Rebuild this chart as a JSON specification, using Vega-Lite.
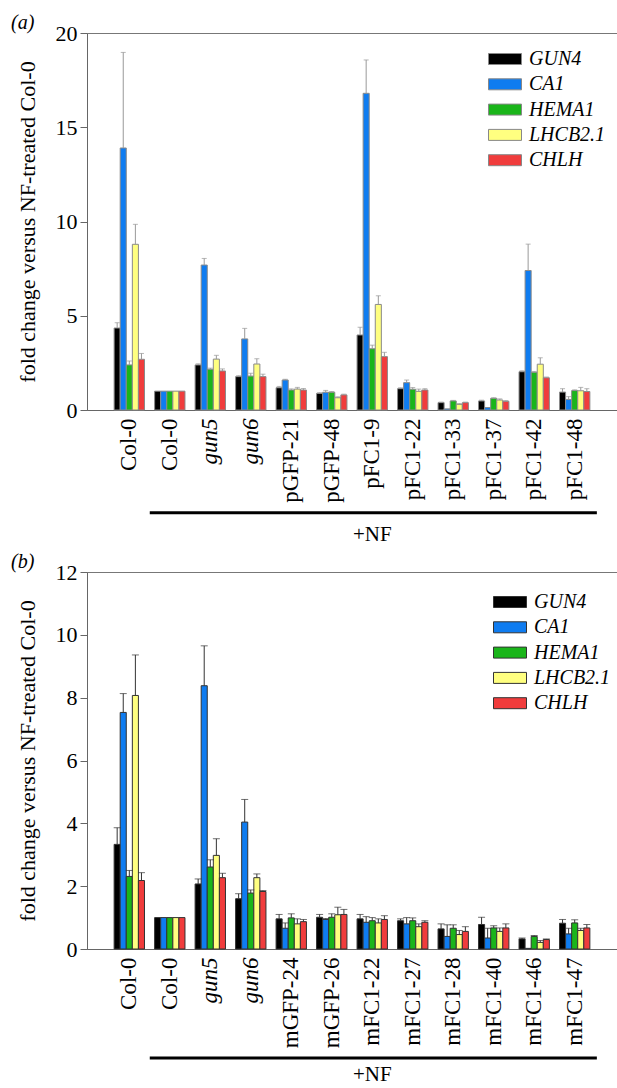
{
  "$schema": "https://vega.github.io/schema/vega-lite/v6.json",
  "padding": {"left": 10, "top": 12, "right": 0, "bottom": 0},
  "spacing": 5,
  "config": {
    "font": "Liberation Serif, Times New Roman, serif",
    "view": {"stroke": "#777", "strokeWidth": 1},
    "axis": {"labelFont": "Liberation Serif, Times New Roman, serif", "titleFont": "Liberation Serif, Times New Roman, serif", "labelColor": "black", "titleColor": "black", "titleFontWeight": "normal", "grid": false, "domainColor": "#666", "tickColor": "#666"},
    "title": {"font": "Liberation Serif, Times New Roman, serif", "fontSize": 20, "fontStyle": "italic", "fontWeight": "normal", "anchor": "start", "frame": "bounds", "offset": -11, "dx": -5, "color": "black"},
    "text": {"font": "Liberation Serif, Times New Roman, serif"},
    "legend": {"orient": "none", "title": null, "symbolType": "M-3,-1H3V1H-3Z", "symbolSize": 121, "symbolStrokeWidth": 1, "labelFontSize": 20, "labelFontStyle": "italic", "labelFont": "Liberation Serif, Times New Roman, serif", "labelColor": "black", "rowPadding": 5.3, "labelOffset": 14, "padding": 0}
  },
  "datasets": {
    "a": [
      {"s":"Col-0","g":"GUN4","v":4.35,"e":4.63},{"s":"Col-0","g":"CA1","v":13.9,"e":18.97},{"s":"Col-0","g":"HEMA1","v":2.39,"e":2.6},{"s":"Col-0","g":"LHCB2.1","v":8.79,"e":9.85},{"s":"Col-0","g":"CHLH","v":2.69,"e":3.0},
      {"s":"Col-0 NF","g":"GUN4","v":1.0,"e":null},{"s":"Col-0 NF","g":"CA1","v":1.0,"e":null},{"s":"Col-0 NF","g":"HEMA1","v":1.0,"e":null},{"s":"Col-0 NF","g":"LHCB2.1","v":1.0,"e":null},{"s":"Col-0 NF","g":"CHLH","v":1.0,"e":null},
      {"s":"gun5","g":"GUN4","v":2.39,"e":2.45},{"s":"gun5","g":"CA1","v":7.69,"e":8.04},{"s":"gun5","g":"HEMA1","v":2.16,"e":2.22},{"s":"gun5","g":"LHCB2.1","v":2.7,"e":2.9},{"s":"gun5","g":"CHLH","v":2.07,"e":2.18},
      {"s":"gun6","g":"GUN4","v":1.77,"e":1.82},{"s":"gun6","g":"CA1","v":3.77,"e":4.33},{"s":"gun6","g":"HEMA1","v":1.8,"e":1.95},{"s":"gun6","g":"LHCB2.1","v":2.44,"e":2.72},{"s":"gun6","g":"CHLH","v":1.77,"e":1.9},
      {"s":"pGFP-21","g":"GUN4","v":1.18,"e":1.25},{"s":"pGFP-21","g":"CA1","v":1.59,"e":1.63},{"s":"pGFP-21","g":"HEMA1","v":1.06,"e":1.12},{"s":"pGFP-21","g":"LHCB2.1","v":1.11,"e":1.2},{"s":"pGFP-21","g":"CHLH","v":1.06,"e":1.14},
      {"s":"pGFP-48","g":"GUN4","v":0.88,"e":0.92},{"s":"pGFP-48","g":"CA1","v":0.94,"e":1.04},{"s":"pGFP-48","g":"HEMA1","v":0.94,"e":0.98},{"s":"pGFP-48","g":"LHCB2.1","v":0.65,"e":0.7},{"s":"pGFP-48","g":"CHLH","v":0.8,"e":0.84},
      {"s":"pFC1-9","g":"GUN4","v":3.98,"e":4.39},{"s":"pFC1-9","g":"CA1","v":16.8,"e":18.57},{"s":"pFC1-9","g":"HEMA1","v":3.25,"e":3.44},{"s":"pFC1-9","g":"LHCB2.1","v":5.6,"e":6.06},{"s":"pFC1-9","g":"CHLH","v":2.83,"e":3.06},
      {"s":"pFC1-22","g":"GUN4","v":1.13,"e":1.18},{"s":"pFC1-22","g":"CA1","v":1.45,"e":1.59},{"s":"pFC1-22","g":"HEMA1","v":1.1,"e":1.19},{"s":"pFC1-22","g":"LHCB2.1","v":0.99,"e":1.11},{"s":"pFC1-22","g":"CHLH","v":1.06,"e":1.13},
      {"s":"pFC1-33","g":"GUN4","v":0.39,"e":0.42},{"s":"pFC1-33","g":"CA1","v":0.06,"e":null},{"s":"pFC1-33","g":"HEMA1","v":0.48,"e":0.51},{"s":"pFC1-33","g":"LHCB2.1","v":0.3,"e":0.34},{"s":"pFC1-33","g":"CHLH","v":0.39,"e":0.42},
      {"s":"pFC1-37","g":"GUN4","v":0.48,"e":0.52},{"s":"pFC1-37","g":"CA1","v":0.13,"e":null},{"s":"pFC1-37","g":"HEMA1","v":0.62,"e":0.65},{"s":"pFC1-37","g":"LHCB2.1","v":0.53,"e":0.59},{"s":"pFC1-37","g":"CHLH","v":0.46,"e":0.5},
      {"s":"pFC1-42","g":"GUN4","v":2.03,"e":2.08},{"s":"pFC1-42","g":"CA1","v":7.4,"e":8.8},{"s":"pFC1-42","g":"HEMA1","v":2.0,"e":2.04},{"s":"pFC1-42","g":"LHCB2.1","v":2.43,"e":2.77},{"s":"pFC1-42","g":"CHLH","v":1.71,"e":1.75},
      {"s":"pFC1-48","g":"GUN4","v":0.95,"e":1.13},{"s":"pFC1-48","g":"CA1","v":0.56,"e":0.71},{"s":"pFC1-48","g":"HEMA1","v":1.03,"e":1.07},{"s":"pFC1-48","g":"LHCB2.1","v":1.02,"e":1.2},{"s":"pFC1-48","g":"CHLH","v":0.98,"e":1.13}
    ],
    "b": [
      {"s":"Col-0","g":"GUN4","v":3.33,"e":3.86},{"s":"Col-0","g":"CA1","v":7.53,"e":8.13},{"s":"Col-0","g":"HEMA1","v":2.31,"e":2.5},{"s":"Col-0","g":"LHCB2.1","v":8.07,"e":9.36},{"s":"Col-0","g":"CHLH","v":2.18,"e":2.43},
      {"s":"Col-0 NF","g":"GUN4","v":1.0,"e":null},{"s":"Col-0 NF","g":"CA1","v":1.0,"e":null},{"s":"Col-0 NF","g":"HEMA1","v":1.0,"e":null},{"s":"Col-0 NF","g":"LHCB2.1","v":1.0,"e":null},{"s":"Col-0 NF","g":"CHLH","v":1.0,"e":null},
      {"s":"gun5","g":"GUN4","v":2.07,"e":2.23},{"s":"gun5","g":"CA1","v":8.38,"e":9.65},{"s":"gun5","g":"HEMA1","v":2.61,"e":2.84},{"s":"gun5","g":"LHCB2.1","v":2.98,"e":3.51},{"s":"gun5","g":"CHLH","v":2.27,"e":2.41},
      {"s":"gun6","g":"GUN4","v":1.6,"e":1.76},{"s":"gun6","g":"CA1","v":4.04,"e":4.76},{"s":"gun6","g":"HEMA1","v":1.78,"e":1.88},{"s":"gun6","g":"LHCB2.1","v":2.27,"e":2.39},{"s":"gun6","g":"CHLH","v":1.83,"e":1.86},
      {"s":"mGFP-24","g":"GUN4","v":0.96,"e":1.1},{"s":"mGFP-24","g":"CA1","v":0.66,"e":0.83},{"s":"mGFP-24","g":"HEMA1","v":0.99,"e":1.12},{"s":"mGFP-24","g":"LHCB2.1","v":0.8,"e":0.96},{"s":"mGFP-24","g":"CHLH","v":0.87,"e":0.94},
      {"s":"mGFP-26","g":"GUN4","v":1.01,"e":1.1},{"s":"mGFP-26","g":"CA1","v":0.94,"e":0.97},{"s":"mGFP-26","g":"HEMA1","v":1.01,"e":1.12},{"s":"mGFP-26","g":"LHCB2.1","v":1.09,"e":1.33},{"s":"mGFP-26","g":"CHLH","v":1.1,"e":1.26},
      {"s":"mFC1-22","g":"GUN4","v":0.96,"e":1.1},{"s":"mFC1-22","g":"CA1","v":0.85,"e":1.03},{"s":"mFC1-22","g":"HEMA1","v":0.9,"e":1.0},{"s":"mFC1-22","g":"LHCB2.1","v":0.83,"e":0.96},{"s":"mFC1-22","g":"CHLH","v":0.94,"e":1.06},
      {"s":"mFC1-27","g":"GUN4","v":0.9,"e":0.96},{"s":"mFC1-27","g":"CA1","v":0.8,"e":1.0},{"s":"mFC1-27","g":"HEMA1","v":0.9,"e":0.99},{"s":"mFC1-27","g":"LHCB2.1","v":0.71,"e":0.8},{"s":"mFC1-27","g":"CHLH","v":0.85,"e":0.9},
      {"s":"mFC1-28","g":"GUN4","v":0.64,"e":0.8},{"s":"mFC1-28","g":"CA1","v":0.4,"e":0.77},{"s":"mFC1-28","g":"HEMA1","v":0.66,"e":0.77},{"s":"mFC1-28","g":"LHCB2.1","v":0.46,"e":0.59},{"s":"mFC1-28","g":"CHLH","v":0.56,"e":0.71},
      {"s":"mFC1-40","g":"GUN4","v":0.78,"e":1.01},{"s":"mFC1-40","g":"CA1","v":0.35,"e":0.66},{"s":"mFC1-40","g":"HEMA1","v":0.67,"e":0.74},{"s":"mFC1-40","g":"LHCB2.1","v":0.56,"e":0.67},{"s":"mFC1-40","g":"CHLH","v":0.67,"e":0.8},
      {"s":"mFC1-46","g":"GUN4","v":0.32,"e":0.35},{"s":"mFC1-46","g":"CA1","v":0.02,"e":null},{"s":"mFC1-46","g":"HEMA1","v":0.4,"e":0.43},{"s":"mFC1-46","g":"LHCB2.1","v":0.21,"e":0.27},{"s":"mFC1-46","g":"CHLH","v":0.3,"e":0.32},
      {"s":"mFC1-47","g":"GUN4","v":0.82,"e":0.94},{"s":"mFC1-47","g":"CA1","v":0.48,"e":0.66},{"s":"mFC1-47","g":"HEMA1","v":0.83,"e":0.93},{"s":"mFC1-47","g":"LHCB2.1","v":0.59,"e":0.66},{"s":"mFC1-47","g":"CHLH","v":0.67,"e":0.78}
    ],
    "nfa": [{"x1":"Col-0 NF","x2":"pFC1-48","y":-5.45,"tx":"pFC1-9","ty":-6.63,"label":"+NF"}],
    "nfb": [{"x1":"Col-0 NF","x2":"mFC1-47","y":-3.47,"tx":"mFC1-22","ty":-4.01,"label":"+NF"}]
  },
  "resolve": {"scale": {"x": "independent", "y": "independent", "color": "independent", "xOffset": "independent"}, "legend": {"color": "independent"}},
  "vconcat": [
    {
      "width": 530, "height": 377,
      "title": {"text": "(a)"},
      "layer": [
        {
          "data": {"name": "a"},
          "mark": {"type": "bar", "stroke": "#8a8a8a", "strokeWidth": 1},
          "encoding": {
            "x": {"field": "s", "type": "nominal", "scale": {"domain": ["Col-0","Col-0 NF","gun5","gun6","pGFP-21","pGFP-48","pFC1-9","pFC1-22","pFC1-33","pFC1-37","pFC1-42","pFC1-48"], "paddingInner": 0.25, "paddingOuter": 0.67},
              "axis": {"title": null, "labelAngle": -90, "ticks": false, "labelPadding": 8, "labelFontSize": 23, "labelExpr": "replace(datum.label, ' NF', '')", "labelFontStyle": {"condition": {"test": "indexof(datum.value, 'gun') === 0", "value": "italic"}, "value": "normal"}}},
            "xOffset": {"field": "g", "type": "nominal", "scale": {"domain": ["GUN4","CA1","HEMA1","LHCB2.1","CHLH"], "paddingInner": 0, "paddingOuter": 0}},
            "y": {"field": "v", "type": "quantitative", "scale": {"domain": [0, 20], "nice": false}, "axis": {"title": "fold change versus NF-treated Col-0", "values": [0,5,10,15,20], "labelFontSize": 22, "titleFontSize": 22, "tickSize": 7, "labelPadding": 3, "titlePadding": 16}},
            "color": {"field": "g", "type": "nominal", "scale": {"domain": ["GUN4","CA1","HEMA1","LHCB2.1","CHLH"], "range": ["#000000","#0f7cf0","#1ab51a","#ffff80","#f03c3c"]}, "legend": {"legendX": 408, "legendY": 16, "symbolStrokeColor": "#888"}}
          }
        },
        {
          "data": {"name": "a"},
          "transform": [{"filter": "datum.e != null"}],
          "mark": {"type": "rule", "color": "#999", "strokeWidth": 1},
          "encoding": {
            "x": {"field": "s", "type": "nominal"},
            "xOffset": {"field": "g", "type": "nominal"},
            "y": {"field": "v", "type": "quantitative"},
            "y2": {"field": "e"}
          }
        },
        {
          "data": {"name": "a"},
          "transform": [{"filter": "datum.e != null"}],
          "mark": {"type": "tick", "color": "#999", "size": 5, "thickness": 1},
          "encoding": {
            "x": {"field": "s", "type": "nominal"},
            "xOffset": {"field": "g", "type": "nominal"},
            "y": {"field": "e", "type": "quantitative"}
          }
        },
        {
          "data": {"name": "nfa"},
          "mark": {"type": "rule", "color": "black", "strokeWidth": 3},
          "encoding": {
            "x": {"field": "x1", "type": "nominal", "bandPosition": -0.16},
            "x2": {"field": "x2", "bandPosition": 1.23},
            "y": {"field": "y", "type": "quantitative"}
          }
        },
        {
          "data": {"name": "nfa"},
          "mark": {"type": "text", "fontSize": 21, "baseline": "middle", "align": "center", "color": "black"},
          "encoding": {
            "x": {"field": "tx", "type": "nominal"},
            "y": {"field": "ty", "type": "quantitative"},
            "text": {"field": "label"}
          }
        }
      ]
    },
    {
      "width": 530, "height": 377,
      "title": {"text": "(b)"},
      "layer": [
        {
          "data": {"name": "b"},
          "mark": {"type": "bar", "stroke": "#333", "strokeWidth": 1},
          "encoding": {
            "x": {"field": "s", "type": "nominal", "scale": {"domain": ["Col-0","Col-0 NF","gun5","gun6","mGFP-24","mGFP-26","mFC1-22","mFC1-27","mFC1-28","mFC1-40","mFC1-46","mFC1-47"], "paddingInner": 0.25, "paddingOuter": 0.67},
              "axis": {"title": null, "labelAngle": -90, "ticks": false, "labelPadding": 8, "labelFontSize": 23, "labelExpr": "replace(datum.label, ' NF', '')", "labelFontStyle": {"condition": {"test": "indexof(datum.value, 'gun') === 0", "value": "italic"}, "value": "normal"}}},
            "xOffset": {"field": "g", "type": "nominal", "scale": {"domain": ["GUN4","CA1","HEMA1","LHCB2.1","CHLH"], "paddingInner": 0, "paddingOuter": 0}},
            "y": {"field": "v", "type": "quantitative", "scale": {"domain": [0, 12], "nice": false}, "axis": {"title": "fold change versus NF-treated Col-0", "values": [0,2,4,6,8,10,12], "labelFontSize": 22, "titleFontSize": 22, "tickSize": 7, "labelPadding": 3, "titlePadding": 16}},
            "color": {"field": "g", "type": "nominal", "scale": {"domain": ["GUN4","CA1","HEMA1","LHCB2.1","CHLH"], "range": ["#000000","#0f7cf0","#1ab51a","#ffff80","#f03c3c"]}, "legend": {"legendX": 413, "legendY": 20, "symbolStrokeColor": "#333"}}
          }
        },
        {
          "data": {"name": "b"},
          "transform": [{"filter": "datum.e != null"}],
          "mark": {"type": "rule", "color": "#333", "strokeWidth": 1},
          "encoding": {
            "x": {"field": "s", "type": "nominal"},
            "xOffset": {"field": "g", "type": "nominal"},
            "y": {"field": "v", "type": "quantitative"},
            "y2": {"field": "e"}
          }
        },
        {
          "data": {"name": "b"},
          "transform": [{"filter": "datum.e != null"}],
          "mark": {"type": "tick", "color": "#333", "size": 7, "thickness": 1},
          "encoding": {
            "x": {"field": "s", "type": "nominal"},
            "xOffset": {"field": "g", "type": "nominal"},
            "y": {"field": "e", "type": "quantitative"}
          }
        },
        {
          "data": {"name": "nfb"},
          "mark": {"type": "rule", "color": "black", "strokeWidth": 3},
          "encoding": {
            "x": {"field": "x1", "type": "nominal", "bandPosition": -0.16},
            "x2": {"field": "x2", "bandPosition": 1.23},
            "y": {"field": "y", "type": "quantitative"}
          }
        },
        {
          "data": {"name": "nfb"},
          "mark": {"type": "text", "fontSize": 21, "baseline": "middle", "align": "center", "color": "black"},
          "encoding": {
            "x": {"field": "tx", "type": "nominal"},
            "y": {"field": "ty", "type": "quantitative"},
            "text": {"field": "label"}
          }
        }
      ]
    }
  ]
}
